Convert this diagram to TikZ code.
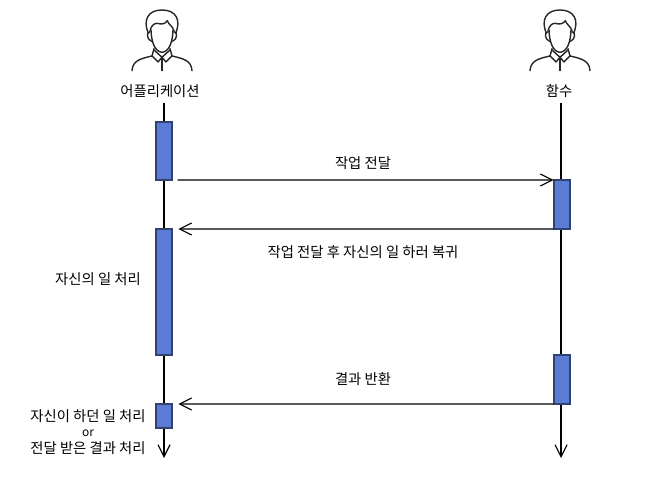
\documentclass[tikz,border=0pt]{standalone}
\usepackage{fontspec}
\setmainfont{Noto Sans CJK KR}
\usetikzlibrary{arrows.meta}
\definecolor{barfill}{HTML}{5B7BD5}
\definecolor{barline}{HTML}{2F4270}
\definecolor{iconline}{HTML}{262626}
\tikzset{
    >={Straight Barb[length=3mm,width=3mm,line width=0.8pt]},
    every node/.style={font=\fontsize{10.2pt}{12pt}\selectfont,inner sep=0pt,outer sep=0pt},
    bar/.style={draw=barline,fill=barfill,line width=1.3pt,minimum width=0.4cm},
    life/.style={line width=0.8pt,black},
    msg/.style={->,line width=0.8pt,black},
    person/.pic={
        \begin{scope}[x=0.00833cm,y=-0.00833cm,draw=iconline,line width=1pt,line cap=round,line join=round]
            % hair
            \draw(-41,100)..controls(-58,60)and(-42,30)..(0,30)..controls(42,30)and(58,60)..(41,100);
            % fringe
            \draw(-36,92)..controls(-32,78)and(-25,70)..(-15,70)..controls(0,74)and(10,72)..(16,62)..controls(20,75)and(32,78)..(36,92);
            % face
            \draw(-33,90)..controls(-32,125)and(-22,155)..(0,157)..controls(22,155)and(32,125)..(33,90);
            % ears
            \draw(-36,95)..controls(-48,95)and(-46,120)..(-31,124);
            \draw(36,95)..controls(48,95)and(46,120)..(31,124);
            % collar
            \draw(-24,146)--(-30,168)--(-12,186)--(0,172)--(12,186)--(30,168)--(24,146);
            \draw(-24,150)--(0,172)--(24,150);
            \draw(0,172)--(0,212);
            % shoulders
            \draw(-90,212)..controls(-88,182)and(-65,176)..(-30,168);
            \draw(90,212)..controls(88,182)and(65,176)..(30,168);
        \end{scope}
    }
}
\begin{document}
\begin{tikzpicture}
    \useasboundingbox(0,0)rectangle(16.725,12.125);
    \pic at(4.05,12.125){person};
    \pic at(14.0,12.125){person};
    \node(app)at(4.0,9.85){어플리케이션};
    \node(func)at(13.975,9.85){함수};
    % life lines
    \coordinate(apptop)at(4.1,9.55);
    \coordinate(append)at(4.1,0.675);
    \coordinate(functop)at(14.025,9.55);
    \coordinate(funcend)at(14.025,0.675);
    \draw[->,life](apptop)--(append);
    \draw[->,life](functop)--(funcend);
    % bars
    \node[bar,minimum height=1.45cm](1)at(4.09,8.35){};
    \node[bar,minimum height=3.15cm](2)at(4.09,4.825){};
    \node[bar,minimum height=0.6cm](3)at(4.09,1.725){};
    \node[bar,minimum height=1.225cm](4)at(14.04,7.0125){};
    \node[bar,minimum height=1.225cm](5)at(14.04,2.6375){};
    % messages
    \draw[msg,shorten <=0.15cm](1.south east)--(4.north west);
    \draw[msg,shorten >=0.17cm](4.south west)--(2.north east);
    \draw[msg,shorten >=0.17cm](5.south west)--(3.north east);
    % labels
    \node(send)at(9.075,8.05){작업 전달};
    \node(back)at(9.075,5.82){작업 전달 후 자신의 일 하러 복귀};
    \node(own)at(2.45,5.15){자신의 일 처리};
    \node(result)at(9.075,2.65){결과 반환};
    \node(doing)at(2.2,1.72){자신이 하던 일 처리};
    \node[font=\fontsize{8.5pt}{10pt}\selectfont](or)at(2.2,1.3){or};
    \node(recv)at(2.2,0.92){전달 받은 결과 처리};
\end{tikzpicture}
\end{document}
